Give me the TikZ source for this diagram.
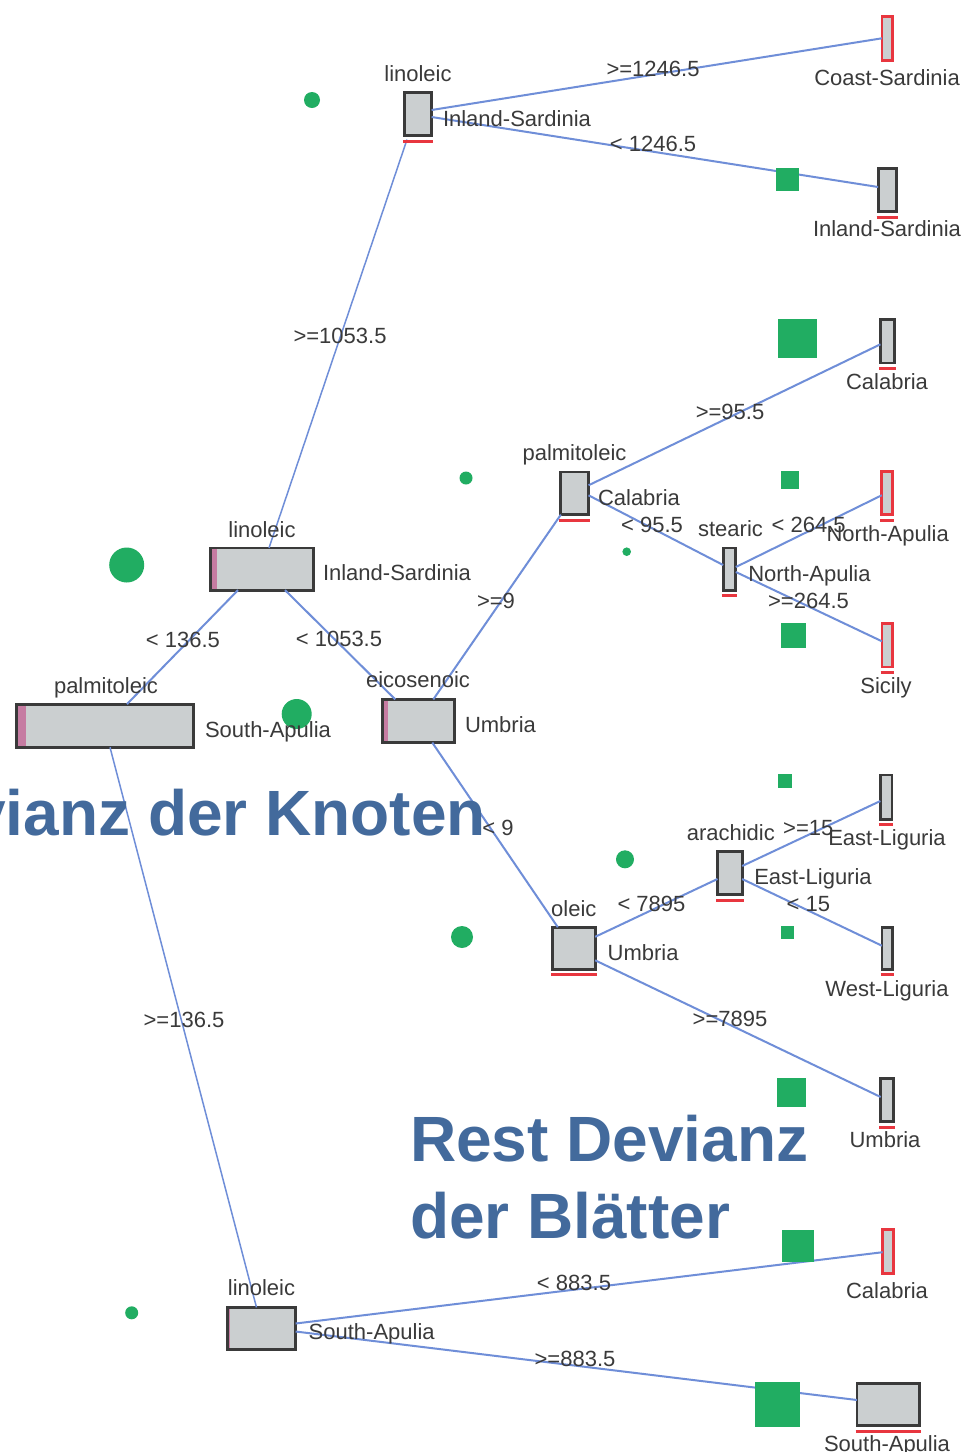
\documentclass[tikz,border=0pt]{standalone}
\usepackage{fontspec}
\setmainfont{Liberation Sans}
\usetikzlibrary{calc}
\definecolor{edgec}{HTML}{6F8ED8}
\definecolor{boxc}{HTML}{CBCFD0}
\definecolor{bordc}{HTML}{3A3A3A}
\definecolor{redc}{HTML}{E8363F}
\definecolor{pinkc}{HTML}{C67CA2}
\definecolor{greenc}{HTML}{21AD62}
\definecolor{titlec}{HTML}{436A9C}
\definecolor{textc}{HTML}{3A3A3A}
\newcommand\redul[1]{\draw[ulinestyle] ($(#1.south west)+(-1.4,5.5)$) -- ($(#1.south east)+(1.4,5.5)$);}
\begin{document}
\begin{tikzpicture}[x=1pt,y=-1pt,
  lab/.style={text=textc, font=\fontsize{22}{26}\selectfont, inner sep=0pt, outer sep=0pt},
  ttl/.style={text=titlec, font=\fontsize{64}{77}\selectfont\bfseries, inner sep=0pt, outer sep=0pt},
  nbox/.style={draw=bordc, fill=boxc, line width=2.8pt, inner sep=0pt, outer sep=0pt, rectangle},
  rbox/.style={draw=redc, fill=boxc, line width=2.8pt, inner sep=0pt, outer sep=0pt, rectangle},
  conn/.style={draw=edgec, line width=2pt},
  thinconn/.style={draw=edgec, line width=1.5pt},
  ulinestyle/.style={draw=redc, line width=3pt},
  gdot/.style={circle, fill=greenc, inner sep=0pt, outer sep=0pt},
  gsq/.style={rectangle, fill=greenc, inner sep=0pt, outer sep=0pt},
  pstrip/.style={path picture={\fill[pinkc] (path picture bounding box.north west) rectangle ([xshift=#1]path picture bounding box.south west);}}
]
\path[use as bounding box] (0,0) rectangle (965,1452);
\clip (0,0) rectangle (965,1452);
\fill[white] (0,0) rectangle (965,1452);

% inner nodes
\node[nbox, pstrip=10pt, minimum width=177.2pt, minimum height=43.2pt] (P1) at (105,725.7) {};
\node[nbox, pstrip=6.5pt, minimum width=103.2pt, minimum height=42.2pt] (L2) at (262,569) {};
\node[nbox, minimum width=27.2pt, minimum height=43.2pt] (L3) at (418,114) {};
\node[nbox, pstrip=6pt, minimum width=72.2pt, minimum height=43.2pt] (E4) at (418.3,721) {};
\node[nbox, minimum width=27.7pt, minimum height=42.7pt] (P5) at (574.7,493.3) {};
\node[nbox, minimum width=12.7pt, minimum height=42.2pt] (S6) at (729.5,569) {};
\node[nbox, minimum width=24.7pt, minimum height=43.2pt] (A7) at (729.8,873) {};
\node[nbox, minimum width=42.7pt, minimum height=42.2pt] (O8) at (573.8,948.3) {};
\node[nbox, pstrip=3pt, minimum width=68.2pt, minimum height=42.2pt] (L9) at (261.5,1328.5) {};

% leaves
\node[rbox, minimum width=10.7pt, minimum height=43.7pt] (CS) at (887.3,38.3) {};
\node[nbox, minimum width=18.2pt, minimum height=43.7pt] (IS) at (887.2,190) {};
\node[nbox, minimum width=14.2pt, minimum height=43.2pt] (CA1) at (887.5,341.3) {};
\node[rbox, minimum width=10.7pt, minimum height=42.7pt] (NA) at (887.2,493.2) {};
\node[rbox, minimum width=10.7pt, minimum height=43.2pt] (SI) at (887.3,645.3) {};
\node[nbox, minimum width=11.7pt, minimum height=44.2pt] (EL) at (886.2,797) {};
\node[nbox, minimum width=10.2pt, minimum height=42.2pt] (WL) at (887,948.2) {};
\node[nbox, minimum width=12.7pt, minimum height=43.2pt] (UM) at (887,1100) {};
\node[rbox, minimum width=10.7pt, minimum height=43.7pt] (CA2) at (888,1251.7) {};
\node[nbox, minimum width=62.7pt, minimum height=42.7pt] (SA) at (888.3,1404.5) {};

% connectors
\draw[conn] ($(P1.north)+(22,0)$) -- ($(L2.south)+(-24,0)$);
\draw[thinconn] ($(P1.south)+(5,0)$) -- ($(L9.north)+(-5,0)$);
\draw[thinconn] ($(L2.north)+(7,0)$) -- ($(L3.south)+(-11,4)$);
\draw[conn] ($(L2.south)+(23,0)$) -- ($(E4.north)+(-23,0)$);
\draw[conn] ($(L3.east)+(0,-4)$) -- (CS.west);
\draw[conn] ($(L3.east)+(0,3)$) -- ($(IS.west)+(0,-3)$);
\draw[conn] ($(E4.north)+(15,0)$) -- (P5.south west);
\draw[conn] ($(E4.south)+(14,0)$) -- ($(O8.north)+(-16,0)$);
\draw[conn] ($(P5.east)+(0,-8)$) -- ($(CA1.west)+(0,3)$);
\draw[conn] ($(P5.east)+(0,2)$) -- ($(S6.west)+(0,-4)$);
\draw[conn] ($(S6.east)+(0,-2)$) -- ($(NA.west)+(0,2)$);
\draw[conn] ($(S6.east)+(0,3)$) -- ($(SI.west)+(0,-4)$);
\draw[conn] ($(O8.east)+(0,-11.5)$) -- ($(A7.west)+(0,6)$);
\draw[conn] ($(O8.east)+(0,12)$) -- ($(UM.west)+(0,-3)$);
\draw[conn] ($(A7.east)+(0,-7)$) -- ($(EL.west)+(0,4)$);
\draw[conn] ($(A7.east)+(0,6)$) -- ($(WL.west)+(0,-2.5)$);
\draw[conn] ($(L9.east)+(0,-5)$) -- ($(CA2.west)+(0,0.5)$);
\draw[conn] ($(L9.east)+(0,3)$) -- ($(SA.west)+(0,-4.5)$);

% underlines
\redul{L3}\redul{P5}\redul{S6}\redul{A7}\redul{O8}
\redul{IS}\redul{CA1}\redul{NA}\redul{SI}\redul{EL}\redul{WL}\redul{UM}\redul{SA}

% green markers
\node[gdot, minimum size=16pt] (g1) at (312,100) {};
\node[gdot, minimum size=35pt] (g2) at (126.7,565) {};
\node[gdot, minimum size=30pt] (g3) at (296.7,714) {};
\node[gdot, minimum size=13pt] (g4) at (466,478) {};
\node[gdot, minimum size=8.6pt] (g5) at (626.7,551.7) {};
\node[gdot, minimum size=18pt] (g6) at (625,859.3) {};
\node[gdot, minimum size=22pt] (g7) at (462,937) {};
\node[gdot, minimum size=13pt] (g8) at (131.7,1312.8) {};
\node[gsq, minimum size=23pt] (s1) at (787.7,179) {};
\node[gsq, minimum size=39pt] (s2) at (797.8,338.3) {};
\node[gsq, minimum size=18pt] (s3) at (790.2,480) {};
\node[gsq, minimum size=25pt] (s4) at (793.8,635.2) {};
\node[gsq, minimum size=14pt] (s5) at (785.3,780.8) {};
\node[gsq, minimum size=13.5pt] (s6) at (787.7,932.7) {};
\node[gsq, minimum size=28.5pt] (s7) at (791.4,1092.5) {};
\node[gsq, minimum size=32pt] (s8) at (798,1246) {};
\node[gsq, minimum size=45pt] (s9) at (777.5,1404.5) {};

% node labels
\node[lab, anchor=base] (tL3) at (418,81) {linoleic};
\node[lab, anchor=base west] (cL3) at (443,126) {Inland-Sardinia};
\node[lab, anchor=base] (tL2) at (262,537) {linoleic};
\node[lab, anchor=base west] (cL2) at (323,580) {Inland-Sardinia};
\node[lab, anchor=base] (tP1) at (106,693) {palmitoleic};
\node[lab, anchor=base west] (cP1) at (205,737) {South-Apulia};
\node[lab, anchor=base] (tE4) at (418,687) {eicosenoic};
\node[lab, anchor=base west] (cE4) at (465,732) {Umbria};
\node[lab, anchor=base] (tP5) at (574.5,460) {palmitoleic};
\node[lab, anchor=base west] (cP5) at (598,505) {Calabria};
\node[lab, anchor=base] (tS6) at (730.5,536) {stearic};
\node[lab, anchor=base west] (cS6) at (748.3,581) {North-Apulia};
\node[lab, anchor=base] (tA7) at (730.8,840) {arachidic};
\node[lab, anchor=base west] (cA7) at (754.3,884) {East-Liguria};
\node[lab, anchor=base] (tO8) at (573.8,916) {oleic};
\node[lab, anchor=base west] (cO8) at (607.7,960) {Umbria};
\node[lab, anchor=base] (tL9) at (261.5,1295) {linoleic};
\node[lab, anchor=base west] (cL9) at (308.7,1339) {South-Apulia};

% leaf labels
\node[lab, anchor=base] (lCS) at (887,85) {Coast-Sardinia};
\node[lab, anchor=base] (lIS) at (887,236) {Inland-Sardinia};
\node[lab, anchor=base] (lCA1) at (887,389) {Calabria};
\node[lab, anchor=base] (lNA) at (887.7,541) {North-Apulia};
\node[lab, anchor=base] (lSI) at (886,693) {Sicily};
\node[lab, anchor=base] (lEL) at (887,845) {East-Liguria};
\node[lab, anchor=base] (lWL) at (887,996) {West-Liguria};
\node[lab, anchor=base] (lUM) at (885,1147) {Umbria};
\node[lab, anchor=base] (lCA2) at (887,1298) {Calabria};
\node[lab, anchor=base] (lSA) at (887,1451) {South-Apulia};

% edge labels
\node[lab, anchor=base] (e1) at (653,76) {>=1246.5};
\node[lab, anchor=base] (e2) at (653,151.5) {< 1246.5};
\node[lab, anchor=base] (e3) at (340,343) {>=1053.5};
\node[lab, anchor=base] (e4) at (183,647) {< 136.5};
\node[lab, anchor=base] (e5) at (339,646) {< 1053.5};
\node[lab, anchor=base] (e6) at (184,1027) {>=136.5};
\node[lab, anchor=base] (e7) at (496,608) {>=9};
\node[lab, anchor=base] (e8) at (498,835) {< 9};
\node[lab, anchor=base] (e9) at (730,419) {>=95.5};
\node[lab, anchor=base] (e10) at (652,532) {< 95.5};
\node[lab, anchor=base] (e11) at (808.7,532) {< 264.5};
\node[lab, anchor=base] (e12) at (808.5,608) {>=264.5};
\node[lab, anchor=base] (e13) at (808.3,835) {>=15};
\node[lab, anchor=base] (e14) at (808.3,911) {< 15};
\node[lab, anchor=base] (e15) at (651.5,911.7) {< 7895};
\node[lab, anchor=base] (e16) at (730,1026) {>=7895};
\node[lab, anchor=base] (e17) at (574,1290) {< 883.5};
\node[lab, anchor=base] (e18) at (575,1366) {>=883.5};

% titles
\node[ttl, anchor=base east] (t1) at (486,835) {Devianz der Knoten};
\node[ttl, anchor=base west] (t2) at (410,1161.7) {Rest Devianz};
\node[ttl, anchor=base west] (t3) at (410,1238.3) {der Blätter};
\end{tikzpicture}
\end{document}
